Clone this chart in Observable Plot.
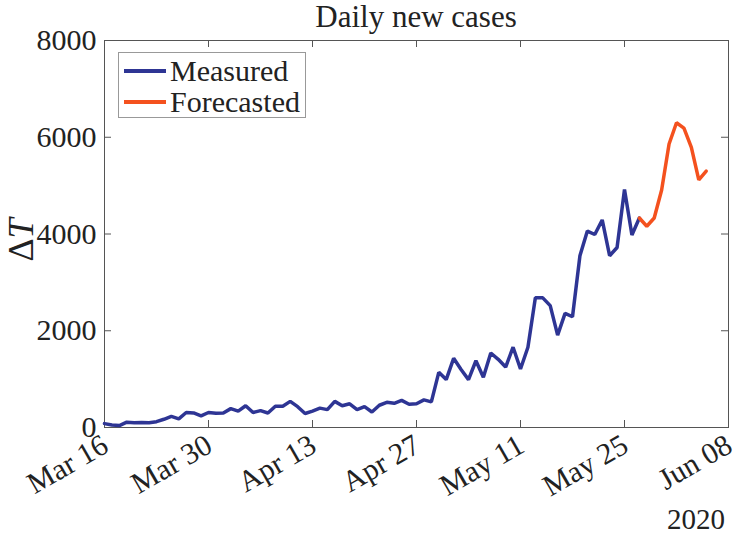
<!DOCTYPE html>
<html>
<head>
<meta charset="utf-8">
<script src="https://cdn.jsdelivr.net/npm/d3@7"></script>
<script src="https://cdn.jsdelivr.net/npm/@observablehq/plot@0.6"></script>
<style>
  html, body { margin: 0; padding: 0; background: #fff; }
  #wrap { position: relative; width: 738px; height: 538px; font-family: "Liberation Serif", "DejaVu Serif", serif; color: #222; }
  .abs { position: absolute; white-space: nowrap; }
  #title { left: 216px; width: 400px; top: 0px; text-align: center; font-size: 31px; line-height: 34px; }
  #ylab { left: 21px; top: 240px; transform: translate(-50%, -50%) rotate(-90deg); font-size: 36px; line-height: 40px; }
  #year { left: 667px; top: 503px; font-size: 29px; line-height: 33px; }
  #legend { left: 118px; top: 52px; width: 188px; height: 66px; border: 1px solid #999; background: #fff; box-sizing: border-box; }
  .item { position: absolute; left: 5px; display: flex; align-items: center; font-size: 30px; line-height: 30px; }
  .sw { width: 42px; height: 3.5px; margin-right: 4px; }
</style>
</head>
<body>
<div id="wrap"></div>
<script>
const startDate = "2020-03-16";
const endDate = "2020-06-08";
const tickLabels = ["2020-03-16", "2020-03-30", "2020-04-13", "2020-04-27", "2020-05-11", "2020-05-25", "2020-06-08"];
const yTicks = [0, 2000, 4000, 6000, 8000];
// daily values starting Mar 16
const measured = [80, 50, 40, 110, 100, 105, 100, 120, 170, 230, 180, 310, 300, 240, 310,
  295, 300, 390, 340, 450, 310, 350, 300, 440, 440, 540, 430, 290, 340, 400, 370, 540,
  450, 490, 370, 430, 320, 460, 520, 500, 560, 480, 490, 570, 530, 1140, 990, 1430, 1200,
  990, 1380, 1040, 1540, 1410, 1250, 1660, 1210, 1660, 2680, 2680, 2520, 1910, 2360, 2290,
  3550, 4060, 3990, 4290, 3550, 3720, 4920, 3980, 4330];
// forecast starts on May 27 (day index 72)
const forecastStart = 72;
const forecast = [4330, 4160, 4330, 4910, 5860, 6300, 6190, 5790, 5120, 5300];

const blue = "#2e3594";
const orange = "#f4511e";
const day = 86400000;
const t0 = new Date(startDate + "T00:00:00Z");
const measuredData = measured.map((v, i) => ({date: new Date(+t0 + i * day), value: v}));
const forecastData = forecast.map((v, i) => ({date: new Date(+t0 + (forecastStart + i) * day), value: v}));
const ticks = tickLabels.map(s => new Date(s + "T00:00:00Z"));

const W = 738, H = 538, mL = 104, mR = 10, mT = 40, mB = 111;
const fw = W - mL - mR, fh = H - mT - mB, tl = 7;
const axisColor = "#555";
const fontFam = '"Liberation Serif", "DejaVu Serif", serif';

const chart = Plot.plot({
  width: W, height: H,
  marginLeft: mL, marginRight: mR, marginTop: mT, marginBottom: mB,
  style: {fontFamily: fontFam, fontSize: "30px", color: "#222", background: "transparent", overflow: "visible"},
  x: {type: "utc", domain: [new Date(startDate + "T00:00:00Z"), new Date(endDate + "T00:00:00Z")]},
  y: {domain: [0, 8000]},
  marks: [
    Plot.frame({stroke: axisColor, strokeWidth: 1}),
    Plot.tickX(ticks, {x: d => d, insetTop: fh - tl, stroke: axisColor}),
    Plot.tickX(ticks, {x: d => d, insetBottom: fh - tl, stroke: axisColor}),
    Plot.tickY(yTicks, {y: d => d, insetRight: fw - tl, stroke: axisColor}),
    Plot.tickY(yTicks, {y: d => d, insetLeft: fw - tl, stroke: axisColor}),
    Plot.axisX({ticks, tickFormat: d3.utcFormat("%b %d"), tickSize: 0, tickRotate: -30, tickPadding: 15, dx: 1, label: null, fill: "#222", fontSize: 30}),
    Plot.axisY({ticks: yTicks, tickFormat: d => String(d), tickSize: 0, tickPadding: 8, label: null, fill: "#222", fontSize: 30}),
    Plot.lineY(measuredData, {x: "date", y: "value", stroke: blue, strokeWidth: 3.5, strokeLinejoin: "miter"}),
    Plot.lineY(forecastData, {x: "date", y: "value", stroke: orange, strokeWidth: 3.5, strokeLinejoin: "miter"})
  ]
});

const wrap = document.getElementById("wrap");
wrap.appendChild(chart);
wrap.insertAdjacentHTML("beforeend", `
  <div class="abs" id="title">Daily new cases</div>
  <div class="abs" id="ylab">Δ<i>T</i></div>
  <div class="abs" id="year">2020</div>
  <div class="abs" id="legend">
    <div class="item" style="top:3px"><div class="sw" style="background:${blue}"></div>Measured</div>
    <div class="item" style="top:34px"><div class="sw" style="background:${orange}"></div>Forecasted</div>
  </div>`);
</script>
</body>
</html>
